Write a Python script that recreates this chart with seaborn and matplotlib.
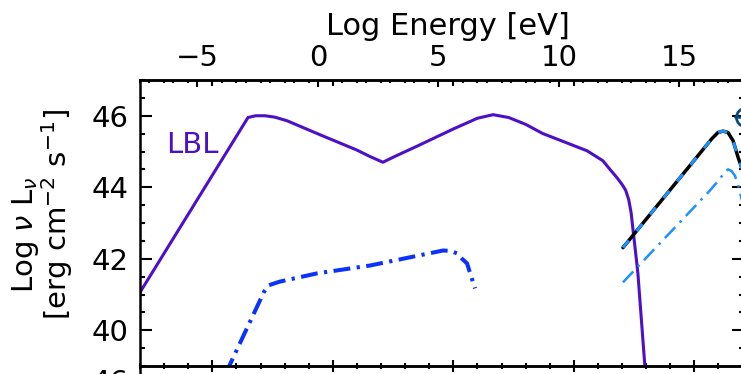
import matplotlib
matplotlib.use("Agg")
import matplotlib.pyplot as plt
import seaborn as sns
import numpy as np
from matplotlib.ticker import MultipleLocator, FixedLocator

# ---------------- data (x = log nu [Hz], y = log nu L_nu) ----------------
lbl_x = [7.0, 11.48, 11.8, 12.19, 12.6, 13.1, 14.5, 16.0, 16.54, 17.08, 17.6, 18.5, 20.0, 21.0,
         21.65, 22.3, 23.0, 23.72, 24.6, 25.55, 26.21, 26.5, 26.79, 27.0, 27.15, 27.28, 27.38,
         27.46, 27.56, 27.66, 27.95, 28.05]
lbl_y = [41.06, 45.95, 46.0, 46.0, 45.96, 45.86, 45.46, 45.04, 44.86, 44.70, 44.87, 45.15, 45.63,
         45.93, 46.03, 45.95, 45.76, 45.50, 45.27, 45.02, 44.74, 44.50, 44.27, 44.08, 43.92, 43.65,
         43.28, 42.79, 42.20, 41.59, 38.99, 38.5]

comp_x = [10.55, 12.15, 12.35, 12.8, 14.34, 16.54, 19.57, 19.9, 20.15, 20.36, 20.57, 20.9]
comp_y = [38.78, 41.08, 41.26, 41.36, 41.59, 41.81, 42.23, 42.22, 42.15, 42.0, 41.87, 41.17]

hadr_x = [27.04, 30.65, 31.07, 31.25, 31.40, 31.55, 31.69, 31.86, 31.98]
hadr_y = [41.34, 43.91, 44.24, 44.42, 44.50, 44.45, 44.32, 43.96, 43.63]

tot_x = [27.04, 30.73, 30.98, 31.19, 31.40, 31.61, 31.82, 31.98]
tot_y = [42.31, 45.36, 45.53, 45.57, 45.53, 45.30, 44.83, 44.52]

obs_x = [32.10]
obs_y = [45.97]

nu_to_ev = 14.383
energy_ticks = [-5, 0, 5, 10, 15]
y_ticks = [40, 42, 44, 46]

# ---------------- style ----------------
sns.set_theme(style="ticks")
plt.rcParams['font.family'] = ['DejaVu Sans']
plt.rcParams['mathtext.fontset'] = 'dejavusans'
plt.rcParams['axes.linewidth'] = 1.8
for k in ['text.color', 'axes.labelcolor', 'xtick.color', 'ytick.color', 'axes.edgecolor']:
    plt.rcParams[k] = 'black'

W, H = 741, 374
fig = plt.figure(figsize=(W / 100, H / 100), dpi=100)
fig.patch.set_facecolor('white')

xmin, xmax = 7.0, 32.05
pxu = 24.1
left_px, top_px, bot_px = 140, 80, 366
ax = fig.add_axes([left_px / W, 1 - bot_px / H, (xmax - xmin) * pxu / W, (bot_px - top_px) / H])

# second (lower) panel, mostly outside the picture
ax2 = fig.add_axes([left_px / W, -0.6, (xmax - xmin) * pxu / W, 0.6 + (1 - bot_px / H)])
ax2.set_xlim(xmin, xmax)
ax2.set_ylim(38, 46.5)
ax2.set_facecolor('none')
ax2.yaxis.set_major_locator(FixedLocator([46]))
ax2.set_yticklabels(['46'])
ax2.xaxis.set_major_locator(MultipleLocator(5))
ax2.xaxis.set_minor_locator(MultipleLocator(1))
ax2.tick_params(axis='both', which='both', direction='in', width=1.5,
                top=True, bottom=False, labelbottom=False, labeltop=False,
                left=True, right=False, labelsize=21, pad=8)
ax2.tick_params(axis='x', which='major', length=4.5)
ax2.tick_params(axis='x', which='minor', length=2.0)
ax2.tick_params(axis='y', which='major', length=8.6)

purple = '#4B10C8'
blue = '#0A32FA'
lblue = '#1E90FF'

sns.lineplot(x=lbl_x, y=lbl_y, ax=ax, sort=False, estimator=None, color=purple, linewidth=2.2)
ax.lines[-1].set_solid_joinstyle('round')
sns.lineplot(x=comp_x, y=comp_y, ax=ax, sort=False, estimator=None, color=blue, linewidth=2.9)
ax.lines[-1].set_linestyle((0, (4.2, 1.6, 0.8, 1.6)))
sns.lineplot(x=hadr_x, y=hadr_y, ax=ax, sort=False, estimator=None, color=lblue, linewidth=1.8)
ax.lines[-1].set_linestyle((0, (6, 2.6, 1, 2.6)))
sns.lineplot(x=tot_x, y=tot_y, ax=ax, sort=False, estimator=None, color='black', linewidth=2.5)
sns.lineplot(x=tot_x, y=tot_y, ax=ax, sort=False, estimator=None, color=lblue, linewidth=2.2)
ax.lines[-1].set_linestyle((0, (3.0, 4.0)))

ax.plot(obs_x, obs_y, marker='o', ms=13, mfc='none', mec='#0B4A7C', mew=2.0,
        linestyle='none', clip_on=False, zorder=5)
ax.plot([obs_x[0] - 0.4, obs_x[0] + 0.4], [obs_y[0], obs_y[0]], color='#0B4A7C', lw=1.8,
        clip_on=False, zorder=5)

ax.text(9.16, 44.95, 'LBL', color=purple, fontsize=21, ha='center', va='baseline')

ax.set_xlim(xmin, xmax)
ax.set_ylim(39, 47)
ax.set_xlabel('')
ax.set_ylabel('')
ax.yaxis.set_major_locator(FixedLocator(y_ticks))
ax.yaxis.set_minor_locator(MultipleLocator(0.5))
ax.xaxis.set_major_locator(MultipleLocator(5))
ax.xaxis.set_minor_locator(MultipleLocator(1))
ax.tick_params(axis='both', which='both', direction='in', width=1.5,
               top=True, bottom=True, left=True, right=True,
               labelbottom=False, labeltop=False, labelright=False, labelleft=True,
               labelsize=21)
ax.tick_params(axis='y', which='major', length=8.6, pad=8)
ax.tick_params(axis='y', which='minor', length=3.6)
ax.tick_params(axis='x', which='major', length=4.5)
ax.tick_params(axis='x', which='minor', length=2.0)

secax = ax.secondary_xaxis('top', functions=(lambda x: x - nu_to_ev, lambda e: e + nu_to_ev))
secax.xaxis.set_major_locator(FixedLocator(energy_ticks))
secax.xaxis.set_minor_locator(MultipleLocator(1))
secax.tick_params(axis='x', which='both', direction='in', width=1.5, labelsize=21, pad=6,
                  colors='black')
secax.tick_params(axis='x', which='major', length=4.7)
secax.tick_params(axis='x', which='minor', length=2.2)
secax.spines['top'].set_linewidth(1.8)
secax.spines['top'].set_color('black')

fig.text(448 / W, 1 - 35 / H, 'Log Energy [eV]', fontsize=22, ha='center', va='baseline')
fig.text(33 / W, 1 - 235 / H, r'Log $\nu$ L$_\nu$', fontsize=21, rotation=90,
         rotation_mode='anchor', ha='center', va='baseline')
fig.text(67 / W, 1 - 215 / H, r'[erg cm$^{-2}$ s$^{-1}$]', fontsize=21, rotation=90,
         rotation_mode='anchor', ha='center', va='baseline')

fig.savefig('out.png', dpi=100, facecolor='white')
